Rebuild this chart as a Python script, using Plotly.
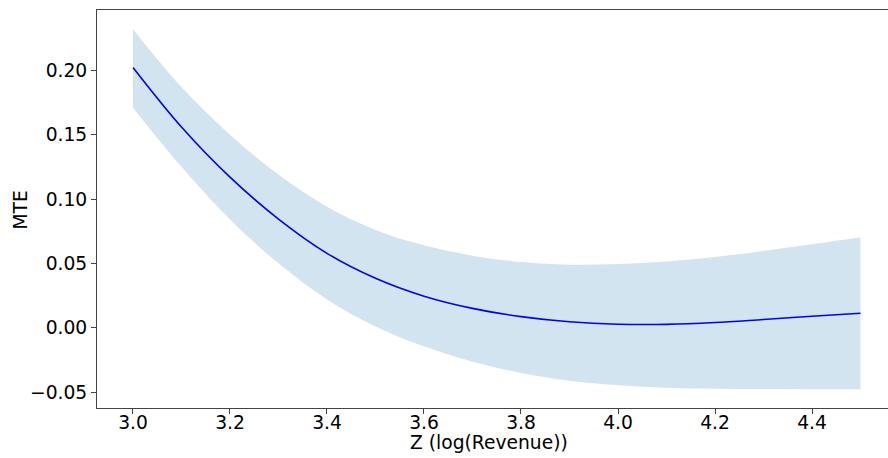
import plotly.graph_objects as go

z_values = [3.0, 3.1, 3.2, 3.3, 3.4, 3.5, 3.6, 3.7, 3.8, 3.9, 4.0, 4.1, 4.2, 4.3, 4.4, 4.5]
mte_mean = [0.2023, 0.156, 0.117, 0.0844, 0.0578, 0.0384, 0.0245, 0.0150, 0.0086, 0.0046, 0.0027,
            0.0026, 0.0040, 0.0064, 0.0089, 0.0112]
mte_upper = [0.232, 0.187, 0.150, 0.119, 0.094, 0.076, 0.064, 0.056, 0.051, 0.0490, 0.0495,
             0.0515, 0.0550, 0.0597, 0.0648, 0.0702]
mte_lower = [0.171, 0.125, 0.084, 0.050, 0.022, 0.001, -0.0145, -0.0265, -0.0352, -0.0413, -0.0448,
             -0.0466, -0.0474, -0.0477, -0.0478, -0.0479]

x_ticks = [3.0, 3.2, 3.4, 3.6, 3.8, 4.0, 4.2, 4.4]
y_ticks = [-0.05, 0.0, 0.05, 0.10, 0.15, 0.20]

fig = go.Figure()
fig.add_trace(go.Scatter(x=z_values, y=mte_lower, mode="lines", line=dict(width=0, shape="spline"),
                         showlegend=False, hoverinfo="skip"))
fig.add_trace(go.Scatter(x=z_values, y=mte_upper, mode="lines", line=dict(width=0, shape="spline"),
                         fill="tonexty", fillcolor="rgba(31,119,180,0.2)", showlegend=False,
                         hoverinfo="skip"))
fig.add_trace(go.Scatter(x=z_values, y=mte_mean, mode="lines",
                         line=dict(color="#0000ff", width=1.6, shape="spline"), showlegend=False))

font = dict(family="DejaVu Sans", size=18.7, color="#000000")
fig.update_layout(
    width=888, height=458,
    margin=dict(l=97, r=0, t=10, b=50),
    paper_bgcolor="white", plot_bgcolor="white",
    font=font,
    xaxis=dict(range=[2.9258, 4.5567], tickvals=x_ticks, ticktext=[f"{v:.1f}" for v in x_ticks],
               showgrid=False, zeroline=False, showline=True, mirror=True, linecolor="#444444",
               linewidth=1, ticks="outside", ticklen=5, tickcolor="#444444", tickfont=font,
               ticklabelstandoff=-7),
    yaxis=dict(range=[-0.0624, 0.2469], tickvals=y_ticks,
               ticktext=["\u22120.05", "0.00", "0.05", "0.10", "0.15", "0.20"],
               showgrid=False, zeroline=False, showline=True, mirror=False, linecolor="#444444",
               linewidth=1, ticks="outside", ticklen=5, tickcolor="#444444", tickfont=font),
    annotations=[
        dict(text="Z (log(Revenue))", xref="paper", yref="paper", x=(488.5 - 97) / 791,
             y=-(442 - 408) / 398, xanchor="center", yanchor="middle", showarrow=False, font=font),
        dict(text="MTE", xref="paper", yref="paper", x=-(97 - 20.5) / 791, y=(408 - 210) / 398,
             xanchor="center", yanchor="middle", textangle=-90, showarrow=False, font=font),
    ],
)

fig.write_html("out.html")
